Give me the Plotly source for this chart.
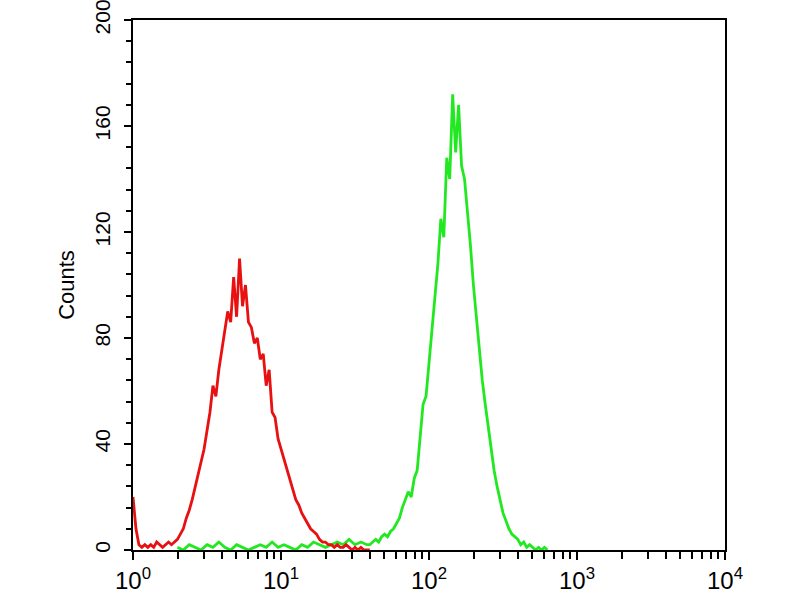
import plotly.graph_objects as go

# channel positions (log10 of fluorescence) and counts
red_log = [0.00, 0.02, 0.04, 0.06, 0.08, 0.10, 0.12, 0.14, 0.16, 0.18,
           0.20, 0.22, 0.24, 0.26, 0.28, 0.30, 0.32, 0.34, 0.36, 0.38,
           0.40, 0.42, 0.44, 0.46, 0.48, 0.50, 0.52, 0.54, 0.56, 0.58,
           0.60, 0.62, 0.64, 0.66, 0.68, 0.70, 0.72, 0.74, 0.76, 0.78,
           0.80, 0.82, 0.84, 0.86, 0.88, 0.90, 0.92, 0.94, 0.96, 0.98,
           1.00, 1.02, 1.04, 1.06, 1.08, 1.10, 1.12, 1.14, 1.16, 1.18,
           1.20, 1.22, 1.24, 1.26, 1.28, 1.30, 1.32, 1.34, 1.36, 1.38,
           1.40, 1.42, 1.44, 1.46, 1.48, 1.50, 1.52, 1.54, 1.56, 1.58, 1.60]
red_counts = [20, 8, 2, 1, 2, 1, 2, 1, 3, 2,
              1, 2, 3, 2, 3, 4, 6, 8, 12, 15,
              19, 24, 28, 33, 38, 45, 52, 62, 58, 68,
              76, 82, 90, 86, 103, 88, 110, 92, 100, 86,
              84, 78, 80, 72, 74, 62, 68, 52, 50, 42,
              38, 34, 30, 27, 22, 19, 17, 14, 12, 10,
              8, 7, 6, 4, 3, 3, 2, 2, 1, 2,
              1, 1, 2, 1, 0, 1, 0, 1, 0, 0, 0]

green_log = [0.30, 0.34, 0.38, 0.42, 0.46, 0.50, 0.54, 0.58, 0.62, 0.66,
             0.70, 0.74, 0.78, 0.82, 0.86, 0.90, 0.94, 0.98, 1.02, 1.06,
             1.10, 1.14, 1.18, 1.22, 1.26, 1.30, 1.34, 1.38, 1.42, 1.46,
             1.50, 1.54, 1.58,
             1.60, 1.62, 1.64, 1.66, 1.68, 1.70, 1.72, 1.74, 1.76, 1.78,
             1.80, 1.82, 1.84, 1.86, 1.88, 1.90, 1.92, 1.94, 1.96, 1.98,
             2.00, 2.02, 2.04, 2.06, 2.08, 2.10, 2.12, 2.14, 2.16, 2.18,
             2.20, 2.22, 2.24, 2.26, 2.28, 2.30, 2.32, 2.34, 2.36, 2.38,
             2.40, 2.42, 2.44, 2.46, 2.48, 2.50, 2.52, 2.54, 2.56, 2.58,
             2.60, 2.62, 2.64, 2.66, 2.68, 2.70, 2.72, 2.74, 2.76, 2.78, 2.80]
green_counts = [1, 0, 2, 1, 0, 2, 1, 3, 1, 0,
                2, 1, 0, 1, 2, 1, 3, 1, 2, 1,
                0, 2, 1, 3, 2, 1, 2, 3, 2, 4,
                2, 3, 2,
                2, 3, 4, 3, 5, 6, 5, 7, 8, 10,
                12, 16, 19, 22, 20, 27, 30, 42, 55, 58,
                70, 85, 95, 108, 125, 118, 148, 140, 172, 150,
                168, 145, 140, 128, 115, 100, 88, 74, 64, 55,
                46, 38, 30, 24, 19, 14, 11, 8, 6, 5,
                4, 2, 3, 1, 2, 1, 0, 1, 0, 1, 0]

x_tick_vals = [1, 10, 100, 1000, 10000]
x_tick_text = ["10<sup>0</sup>", "10<sup>1</sup>", "10<sup>2</sup>",
               "10<sup>3</sup>", "10<sup>4</sup>"]
y_tick_vals = [0, 40, 80, 120, 160, 200]

red_x = [10 ** v for v in red_log]
green_x = [10 ** v for v in green_log]

# minor tick positions for the log axis (2..9 in each decade)
minor_ticks = [m * 10 ** d for d in range(4) for m in range(2, 10)]

fig = go.Figure()
fig.add_trace(go.Scatter(x=green_x, y=green_counts, mode="lines",
                         line=dict(color="#22e822", width=2.8),
                         showlegend=False))
fig.add_trace(go.Scatter(x=red_x, y=red_counts, mode="lines",
                         line=dict(color="#e81010", width=2.8),
                         showlegend=False))

fig.update_layout(
    width=800, height=600,
    margin=dict(l=133, r=75, t=20, b=50, autoexpand=False),
    paper_bgcolor="white", plot_bgcolor="white",
    font=dict(family="Liberation Sans, Arial, sans-serif", color="black"),
)
fig.update_xaxes(
    type="log", range=[0, 4], automargin=False, ticklabeloverflow="allow",
    tickmode="array", tickvals=x_tick_vals, ticktext=x_tick_text,
    ticks="outside", ticklen=8, tickwidth=2, tickcolor="black",
    minor=dict(tickmode="array", tickvals=minor_ticks, ticks="outside",
               ticklen=7, tickwidth=2, tickcolor="black", showgrid=False),
    showline=True, linecolor="black", linewidth=2, mirror=True,
    showgrid=False, zeroline=False,
    tickfont=dict(size=24),
)
fig.update_yaxes(
    range=[0, 200], automargin=False, ticklabeloverflow="allow",
    tickmode="array", tickvals=y_tick_vals,
    ticks="outside", ticklen=7, tickwidth=2, tickcolor="black",
    minor=dict(dtick=8, ticks="outside", ticklen=5, tickwidth=2, tickcolor="black"),
    showline=True, linecolor="black", linewidth=2, mirror=True,
    showgrid=False, zeroline=False,
    tickangle=-90, tickfont=dict(size=21), ticklabelstandoff=6,
    title=dict(text="Counts", font=dict(size=22), standoff=10),
)

fig.write_html("out.html",
               config={"displayModeBar": False},
               post_script="document.body.style.margin='0';")
